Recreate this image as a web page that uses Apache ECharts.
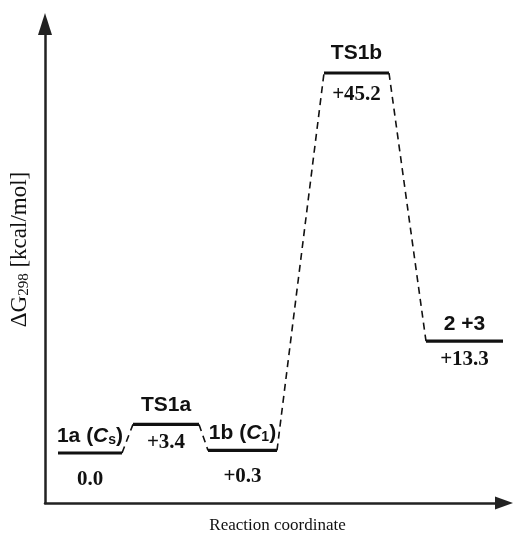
<!DOCTYPE html>
<html>
<head>
<meta charset="utf-8">
<script src="https://cdn.jsdelivr.net/npm/echarts@6/dist/echarts.min.js"></script>
<style>html,body{margin:0;padding:0;background:#fff;}#c{width:514px;height:536px;}</style>
</head>
<body>
<div id="c"></div>
<script>
// Data
var species = ['1a ({i|C}{sub|s})', 'TS1a', '1b ({i|C}{sub|1})', 'TS1b', '2 +3'];
var energies = [0.0, 3.4, 0.3, 45.2, 13.3];           // ΔG298 kcal/mol
var coordStart = [13, 88, 163, 279, 381];              // reaction coordinate (start of level)
var coordEnd = [77, 154, 232, 344, 458];               // reaction coordinate (end of level)
var energyLabels = ['0.0', '+3.4', '+0.3', '+45.2', '+13.3'];
var xAxisName = 'Reaction coordinate';
var yAxisName = 'ΔG{sub|298} [kcal/mol]';

// Build series data
var levelData = species.map(function (s, i) {
  return [coordStart[i], coordEnd[i], energies[i]];
});
var connectorData = [];
for (var i = 0; i < energies.length - 1; i++) {
  connectorData.push([[coordEnd[i], energies[i]], [coordStart[i + 1], energies[i + 1]]]);
}

var nameOffset = [17, 19, 17, 20, 17];
var valueOffset = [27, 18, 26, 22, 18];

var sansBold = {fontFamily: 'Liberation Sans, Arial, sans-serif', fontWeight: 'bold', fontSize: 21, fill: '#111'};
var richName = {
  i: {fontFamily: 'Liberation Sans, Arial, sans-serif', fontWeight: 'bold', fontStyle: 'italic', fontSize: 21, fill: '#111'},
  sub: {fontFamily: 'Liberation Sans, Arial, sans-serif', fontWeight: 'bold', fontSize: 14, fill: '#111', verticalAlign: 'bottom', padding: [8, 0, 0, 0]}
};

var chart = echarts.init(document.getElementById('c'), null, {renderer: 'canvas'});
chart.setOption({
  animation: false,
  backgroundColor: '#fff',
  grid: {left: 45, right: 10, top: 24, bottom: 33, containLabel: false, outerBoundsMode: 'none'},
  xAxis: {
    type: 'value', min: 0, max: 459,
    name: xAxisName, nameLocation: 'middle', nameGap: 14,
    nameTextStyle: {fontFamily: 'Liberation Serif, Times New Roman, serif', fontSize: 17, color: '#111', padding: [0, 0, 0, 6]},
    axisLine: {show: true, onZero: false, lineStyle: {color: '#222', width: 2.5}, symbol: ['none', 'triangle'], symbolSize: [13, 18]},
    axisTick: {show: false}, axisLabel: {show: false}, splitLine: {show: false}
  },
  yAxis: {
    type: 'value', min: -5.95, max: 51.03,
    name: yAxisName, nameLocation: 'middle', nameGap: 13, nameRotate: 90,
    nameTextStyle: {
      fontFamily: 'Liberation Serif, Times New Roman, serif', fontSize: 23, color: '#111', padding: [0, 0, 0, 28],
      rich: {sub: {fontFamily: 'Liberation Serif, Times New Roman, serif', fontSize: 15, color: '#111', verticalAlign: 'bottom', padding: [9, 0, 0, 0]}}
    },
    axisLine: {show: true, onZero: false, lineStyle: {color: '#222', width: 2.5}, symbol: ['none', 'triangle'], symbolSize: [14, 22]},
    axisTick: {show: false}, axisLabel: {show: false}, splitLine: {show: false}
  },
  series: [
    {
      type: 'lines', coordinateSystem: 'cartesian2d', silent: true,
      data: connectorData.map(function (c) { return {coords: c}; }),
      lineStyle: {color: '#111', width: 1.6, type: [7, 5], opacity: 1}
    },
    {
      type: 'custom', silent: true,
      data: levelData,
      renderItem: function (params, api) {
        var idx = params.dataIndex;
        var p1 = api.coord([api.value(0), api.value(2)]);
        var p2 = api.coord([api.value(1), api.value(2)]);
        var cx = (p1[0] + p2[0]) / 2;
        return {
          type: 'group',
          children: [
            {type: 'line', shape: {x1: p1[0], y1: p1[1], x2: p2[0], y2: p2[1]}, style: {stroke: '#111', lineWidth: 3.2}},
            {type: 'text', x: cx, y: p1[1] - nameOffset[idx],
              style: Object.assign({text: species[idx], align: 'center', verticalAlign: 'middle', rich: richName}, sansBold)},
            {type: 'text', x: cx, y: p1[1] + valueOffset[idx],
              style: {text: energyLabels[idx], align: 'center', verticalAlign: 'middle',
                fontFamily: 'Liberation Serif, Times New Roman, serif', fontWeight: 'bold', fontSize: 21, fill: '#111'}}
          ]
        };
      }
    }
  ]
});
</script>
</body>
</html>
